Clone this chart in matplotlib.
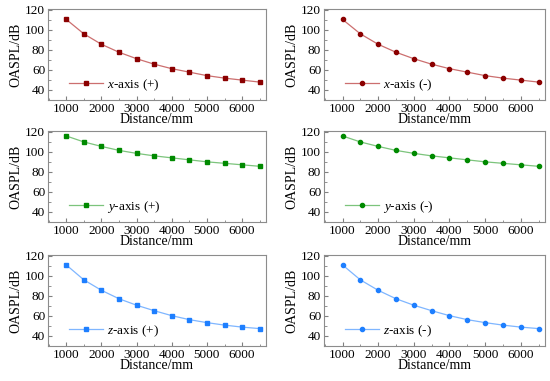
import numpy as np
import matplotlib
matplotlib.use("Agg")
import matplotlib.pyplot as plt
from matplotlib.ticker import MultipleLocator

plt.rcParams['font.family'] = ['Liberation Serif', 'DejaVu Serif']
plt.rcParams['mathtext.fontset'] = 'custom'
plt.rcParams['mathtext.it'] = 'Liberation Serif:italic'
plt.rcParams['mathtext.rm'] = 'Liberation Serif'

# data
distance = [1000, 1500, 2000, 2500, 3000, 3500, 4000, 4500, 5000, 5500, 6000, 6500]
x_pos = [110.5, 96, 85.5, 77.5, 71, 65.5, 61, 57.5, 54, 51.5, 49.5, 47.5]
x_neg = [110.5, 96, 85.5, 77.5, 71, 65.5, 61, 57.5, 54, 51.5, 49.5, 47.5]
y_pos = [116, 110, 105.5, 101.5, 98.5, 96, 94, 92, 90, 88.5, 87, 85.5]
y_neg = [116, 110, 105.5, 101.5, 98.5, 96, 94, 92, 90, 88.5, 87, 85.5]
z_pos = [111, 96, 85.5, 77, 70.5, 65, 60, 56, 53, 50.5, 48.5, 47]
z_neg = [111, 96, 85.5, 77, 70.5, 65, 60, 56, 53, 50.5, 48.5, 47]

panels = [
    (x_pos, '$x$-axis (+)', 's', '#8b0000', '#cc6f6f'),
    (x_neg, '$x$-axis (-)', 'o', '#8b0000', '#cc6f6f'),
    (y_pos, '$y$-axis (+)', 's', '#008a00', '#7cc47c'),
    (y_neg, '$y$-axis (-)', 'o', '#008a00', '#7cc47c'),
    (z_pos, '$z$-axis (+)', 's', '#1e7fff', '#7fb6ff'),
    (z_neg, '$z$-axis (-)', 'o', '#1e7fff', '#7fb6ff'),
]

W, H = 550, 381
fig = plt.figure(figsize=(5.5, 3.81), dpi=100)

col_left = [48, 324]
col_w = [218, 221]
row_top = [9, 131, 255]
row_h = 91

for i, (vals, lab, mk, mc, lc) in enumerate(panels):
    r, c = divmod(i, 2)
    ax = fig.add_axes([col_left[c] / W, 1 - (row_top[r] + row_h) / H,
                       col_w[c] / W, row_h / H])
    ax.plot(distance, vals, color=lc, lw=0.9, marker=mk, ms=3.0,
            mfc=mc, mec=mc, label=lab)
    ax.set_xlim(480, 6680)
    ax.set_ylim(29.5, 121)
    ax.xaxis.set_major_locator(MultipleLocator(1000))
    ax.xaxis.set_minor_locator(MultipleLocator(500))
    ax.yaxis.set_major_locator(MultipleLocator(20))
    ax.yaxis.set_minor_locator(MultipleLocator(10))
    ax.set_yticks([40, 60, 80, 100, 120])
    ax.tick_params(which='both', direction='in', color='#808080',
                   labelsize=9.5, pad=2)
    ax.tick_params(which='major', length=3)
    ax.tick_params(which='minor', length=1.8)
    for s in ax.spines.values():
        s.set_color('#8c8c8c')
        s.set_linewidth(0.8)
    ax.set_xlabel('Distance/mm', fontsize=10, labelpad=-1)
    ax.set_ylabel('OASPL/dB', fontsize=10, labelpad=2)
    ax.legend(loc='lower left', frameon=False, fontsize=9.5,
              handlelength=2.6, handletextpad=0.3,
              bbox_to_anchor=(0.04, -0.05))

fig.savefig('out.png', dpi=100)
